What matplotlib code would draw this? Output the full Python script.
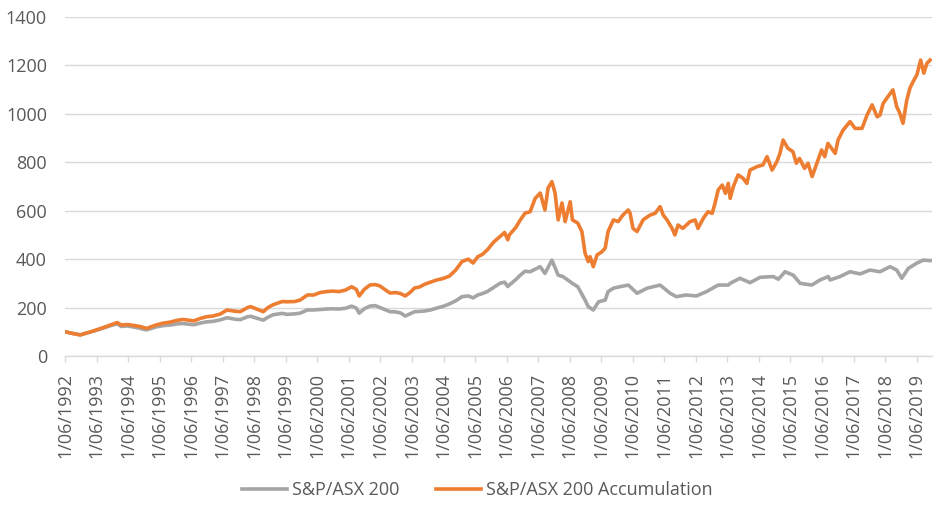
import matplotlib
matplotlib.use("Agg")
import matplotlib.pyplot as plt
import pandas as pd
import numpy as np

# ---- S&P/ASX 200 Accumulation (decimal-year positions and values)
acc_years = [1992.42, 1992.7, 1992.9, 1993.1, 1993.3, 1993.6, 1993.85, 1994.07, 1994.2, 1994.4,
             1994.7, 1994.85, 1995.0, 1995.3, 1995.5, 1995.75, 1996.0, 1996.16, 1996.5, 1996.7,
             1996.9, 1997.1, 1997.33, 1997.55, 1997.8, 1997.97, 1998.2, 1998.3, 1998.7, 1998.85,
             1999.0, 1999.3, 1999.45, 1999.7, 1999.87, 2000.1, 2000.3, 2000.5, 2000.7, 2000.9,
             2001.1, 2001.3, 2001.5, 2001.65, 2001.74, 2001.9, 2002.08, 2002.25, 2002.4, 2002.55,
             2002.72, 2002.9, 2003.05, 2003.2, 2003.35, 2003.5, 2003.65, 2003.83, 2004.0, 2004.2,
             2004.4, 2004.6, 2004.8, 2005.0, 2005.2, 2005.35, 2005.5, 2005.65, 2005.8, 2006.0,
             2006.2, 2006.35, 2006.45, 2006.5, 2006.7, 2006.85, 2007.0,
             2007.16, 2007.32, 2007.48, 2007.63, 2007.73, 2007.85, 2007.95, 2008.05, 2008.17, 2008.27,
             2008.43, 2008.5, 2008.67, 2008.8, 2008.9, 2009.0, 2009.06, 2009.16, 2009.28, 2009.44,
             2009.54, 2009.63, 2009.8, 2009.95, 2010.1, 2010.27, 2010.33, 2010.42, 2010.55, 2010.74,
             2010.96, 2011.12, 2011.28, 2011.38, 2011.5, 2011.66, 2011.75, 2011.85, 2012.0, 2012.23,
             2012.39, 2012.48, 2012.65, 2012.8, 2012.93, 2013.02, 2013.12, 2013.25, 2013.35, 2013.44,
             2013.5, 2013.6, 2013.75, 2013.91, 2014.03, 2014.13, 2014.35, 2014.54, 2014.67, 2014.83,
             2014.98, 2015.08, 2015.18, 2015.33, 2015.49, 2015.6, 2015.7, 2015.86, 2015.97, 2016.1,
             2016.25, 2016.4, 2016.5, 2016.6, 2016.83, 2016.92, 2017.08, 2017.3, 2017.46, 2017.68,
             2017.84, 2018.0, 2018.16, 2018.25, 2018.35, 2018.5, 2018.66, 2018.78, 2018.88, 2018.98,
             2019.1, 2019.2, 2019.3, 2019.42, 2019.54, 2019.64, 2019.74, 2019.84]

acc_values = [100, 92, 87, 95, 103, 116, 128, 138, 128, 130,
              124, 120, 114, 128, 135, 140, 148, 151, 145, 155,
              162, 165, 173, 190, 185, 183, 200, 204, 183, 200,
              211, 225, 224, 225, 231, 252, 252, 262, 266, 268,
              266, 272, 286, 275, 248, 275, 293, 295, 289, 275,
              260, 262, 258, 248, 262, 281, 285, 297, 305, 314,
              320, 330, 355, 390, 400, 384, 410, 420, 438, 470,
              493, 510, 480, 500, 530, 562, 590,
              596, 651, 673, 603, 694, 720, 673, 562, 632, 555,
              637, 562, 549, 514, 425, 390, 410, 369, 417, 431,
              446, 514, 562, 555, 582, 603, 589, 527, 514, 562,
              582, 589, 617, 582, 562, 527, 500, 541, 527, 555,
              562, 527, 569, 596, 589, 631, 686, 706, 672, 713,
              651, 699, 748, 734, 713, 768, 782, 789, 823, 768,
              802, 837, 892, 858, 844, 796, 816, 775, 796, 741,
              796, 851, 823, 878, 837, 892, 933, 968, 940, 940,
              995, 1037, 988, 995, 1043, 1071, 1099, 1030, 1002, 961,
              1057, 1106, 1133, 1161, 1222, 1168, 1209, 1222]

# ---- S&P/ASX 200 (price index)
price_years = [1992.42, 1992.7, 1992.9, 1993.1, 1993.3, 1993.6, 1993.85, 1994.07, 1994.2, 1994.4,
               1994.7, 1994.85, 1995.0, 1995.3, 1995.5, 1995.75, 1996.0, 1996.16, 1996.5, 1996.7,
               1996.9, 1997.1, 1997.33, 1997.55, 1997.8, 1997.97, 1998.2, 1998.3, 1998.7, 1998.85,
               1999.0, 1999.3, 1999.45, 1999.7, 1999.87, 2000.1, 2000.3, 2000.5, 2000.7, 2000.9,
               2001.1, 2001.3, 2001.5, 2001.65, 2001.74, 2001.9, 2002.08, 2002.25, 2002.4, 2002.55,
               2002.72, 2002.9, 2003.05, 2003.2, 2003.35, 2003.5, 2003.65, 2003.83, 2004.0, 2004.2,
               2004.4, 2004.6, 2004.8, 2005.0, 2005.2, 2005.35, 2005.5, 2005.65, 2005.8, 2006.0,
               2006.2, 2006.35, 2006.45, 2006.5, 2006.7, 2006.85, 2007.0,
               2007.16, 2007.48, 2007.63, 2007.85, 2008.05, 2008.2, 2008.5, 2008.67, 2008.9, 2009.0,
               2009.16, 2009.33, 2009.54, 2009.63, 2009.8, 2010.0, 2010.27, 2010.33, 2010.55, 2010.87,
               2011.28, 2011.6, 2011.8, 2012.1, 2012.43, 2012.75, 2013.12, 2013.44, 2013.5, 2013.81,
               2014.13, 2014.45, 2014.87, 2015.03, 2015.24, 2015.5, 2015.72, 2016.09, 2016.35, 2016.61,
               2016.67, 2016.98, 2017.3, 2017.62, 2017.93, 2018.25, 2018.57, 2018.78, 2018.94, 2019.15,
               2019.41, 2019.62, 2019.84]

price_values = [100, 92, 87, 95, 102, 114, 125, 133, 122, 124,
                117, 112, 108, 120, 125, 128, 133, 134, 129, 136,
                141, 143, 149, 158, 152, 150, 162, 164, 148, 160,
                170, 176, 172, 174, 177, 190, 190, 192, 194, 195,
                194, 197, 206, 198, 177, 195, 206, 208, 200, 192,
                183, 182, 178, 165, 174, 183, 184, 186, 190, 198,
                205, 215, 228, 245, 248, 240, 252, 258, 266, 283,
                300, 305, 287, 293, 315, 334, 350,
                348, 369, 341, 396, 334, 328, 300, 286, 231, 204,
                190, 224, 231, 266, 280, 286, 293, 286, 259, 280,
                293, 259, 245, 252, 248, 266, 293, 293, 300, 321,
                303, 325, 328, 317, 348, 334, 300, 293, 314, 328,
                314, 328, 348, 339, 355, 348, 369, 355, 321, 362,
                383, 396, 394]

tick_years = list(range(1992, 2020))
series_names = ["S&P/ASX 200", "S&P/ASX 200 Accumulation"]


def to_date(y):
    yr = int(y)
    start = pd.Timestamp(year=yr, month=1, day=1)
    end = pd.Timestamp(year=yr + 1, month=1, day=1)
    return start + (end - start) * (y - yr)


plt.rcParams['font.family'] = ['Open Sans', 'DejaVu Sans']
txt = '#595959'

fig = plt.figure(figsize=(9.36, 5.05), dpi=100)
ax = fig.add_axes([65 / 936, 1 - 356 / 505, (932 - 65) / 936, (356 - 17) / 505])

ax.plot([to_date(y) for y in price_years], price_values, color='#A5A5A5', lw=2.6,
        label=series_names[0])
ax.plot([to_date(y) for y in acc_years], acc_values, color='#ED7D31', lw=2.6,
        label=series_names[1])

ax.set_ylim(0, 1400)
ax.set_yticks(np.arange(0, 1401, 200))
ax.yaxis.grid(True, color='#D9D9D9', lw=1)
ax.set_axisbelow(True)

ax.set_xlim(pd.Timestamp('1992-06-01'), to_date(2019.9))
ticks = [pd.Timestamp(year=y, month=6, day=1) for y in tick_years]
ax.set_xticks(ticks)
ax.set_xticklabels([f"1/06/{y}" for y in tick_years], rotation=90)

for s in ['top', 'right', 'left']:
    ax.spines[s].set_visible(False)
ax.spines['bottom'].set_color('#D9D9D9')
ax.spines['bottom'].set_linewidth(1)

ax.tick_params(axis='y', length=0, pad=13, labelsize=13, labelcolor=txt)
ax.tick_params(axis='x', length=4, width=1, color='#D9D9D9', pad=8, labelsize=13, labelcolor=txt)

fig.legend(loc='center', bbox_to_anchor=(0.51, 1 - 490 / 505), ncol=2, frameon=False,
           fontsize=13, labelcolor=txt, handlelength=2.5, columnspacing=2.0, handletextpad=0.3)

fig.savefig('out.png', dpi=100)
